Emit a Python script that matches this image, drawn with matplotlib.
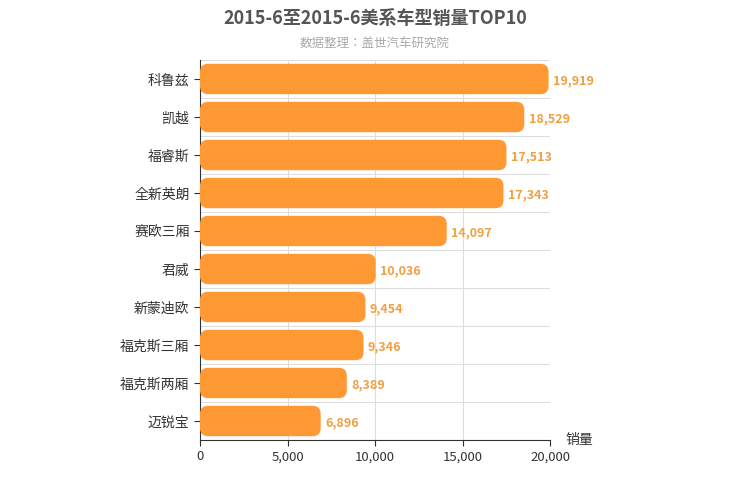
import matplotlib
matplotlib.use("Agg")
import matplotlib.pyplot as plt
from matplotlib import font_manager as fm
from matplotlib.patches import FancyBboxPatch

names = sorted({f.name for f in fm.fontManager.ttflist})
cjk = [n for n in names if "CJK" in n]
fam = cjk[0] if cjk else "DejaVu Sans"
for pref in ["Noto Sans CJK SC", "Noto Sans CJK JP"]:
    if pref in names:
        fam = pref
        break
plt.rcParams["font.family"] = [fam, "DejaVu Sans"]

categories = ["科鲁兹", "凯越", "福睿斯", "全新英朗", "赛欧三厢", "君威", "新蒙迪欧", "福克斯三厢", "福克斯两厢", "迈锐宝"]
values = [19919, 18529, 17513, 17343, 14097, 10036, 9454, 9346, 8389, 6896]
xticks = [0, 5000, 10000, 15000, 20000]

fig = plt.figure(figsize=(7.5, 5), dpi=100)
ax = fig.add_axes([200/750, 60/500, 350/750, 380/500])
n = len(categories)
ax.set_xlim(0, 20000)
ax.set_ylim(n - 0.5, -0.5)

xpu = 20000/350
ypu = n/380
r = 8 * xpu
h = 0.8
for i, v in enumerate(values):
    p = FancyBboxPatch((0, i - h/2), v, h,
                       boxstyle=f"round,pad=0,rounding_size={r}",
                       mutation_aspect=ypu/xpu, fc="#ff9933", ec="none", zorder=3)
    ax.add_patch(p)
    ax.text(v + 250, i + 0.05, f"{v:,}", va="center", ha="left", color="#f0a040",
            fontsize=9, fontweight="bold", zorder=4)

ax.set_yticks(range(n))
ax.set_yticklabels(categories, fontsize=10, color="#333333")
ax.set_xticks(xticks)
ax.set_xticklabels([f"{t:,}" for t in xticks], fontsize=9.5, color="#333333")
for t in xticks[1:]:
    ax.axvline(t, color="#dddddd", lw=0.8, zorder=1)
for b in range(n):
    ax.axhline(b - 0.5, color="#dddddd", lw=0.8, zorder=1)
for s in ["top", "right"]:
    ax.spines[s].set_visible(False)
ax.spines["left"].set_color("#333333")
ax.spines["bottom"].set_color("#333333")
ax.tick_params(axis="y", length=4, color="#333333")
ax.tick_params(axis="x", length=4, color="#333333")

fig.text(0.5, 1 - 18/500, "2015-6至2015-6美系车型销量TOP10", ha="center", va="center",
         fontsize=13, fontweight="bold", color="#555555")
fig.text(0.5, 1 - 43/500, "数据整理：盖世汽车研究院", ha="center", va="center",
         fontsize=9, color="#aaaaaa")
fig.text(565/750, 1 - 440/500, "销量", ha="left", va="center", fontsize=10, color="#333333")

fig.savefig("out.png", dpi=100)
